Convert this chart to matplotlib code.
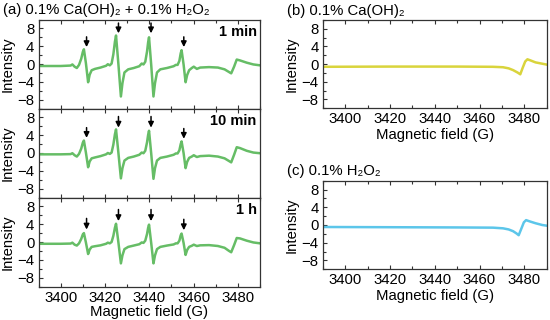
import matplotlib
matplotlib.use("Agg")
import matplotlib.pyplot as plt
from matplotlib.ticker import MultipleLocator

plt.rcParams['font.family'] = ['Liberation Sans', 'DejaVu Sans']
plt.rcParams['font.size'] = 10.7

# ---------------- data ----------------
field = [3390, 3400, 3404.5, 3405.3, 3406.3, 3407.3, 3408.3, 3409.3, 3410.0, 3410.5,
         3411.4, 3412.4, 3413.1, 3414.0, 3415.5, 3418, 3420.5, 3421.3, 3422.2, 3423.0,
         3423.8, 3424.5, 3425.0, 3426.1, 3427.2, 3427.9, 3428.8, 3430.5, 3433, 3435.5,
         3436.6, 3437.4, 3438.2, 3439.0, 3439.5, 3439.9, 3440.9, 3441.9, 3442.6, 3443.5,
         3445, 3448, 3451, 3452.0, 3452.8, 3453.6, 3454.2, 3454.6, 3455.5, 3456.4,
         3457.1, 3458.0, 3459.2, 3460.1, 3461.5, 3463, 3467, 3471, 3474, 3476,
         3477.0, 3478.3, 3479.5, 3481, 3484, 3487, 3490]

int_1min = [-0.45, -0.45, -0.35, -0.1, -0.6, -0.9, -0.2, 1.2, 2.7, 3.3,
            0.2, -4.1, -2.4, -1.4, -1.1, -0.8, -0.4, -0.05, -0.3, 0.1,
            2.2, 5.0, 6.4, -0.2, -7.3, -4.3, -1.9, -1.2, -0.9, -0.5,
            0.1, -0.1, 0.5, 2.8, 4.9, 6.0, -0.3, -7.3, -4.3, -1.9,
            -1.2, -0.9, -0.5, -0.2, -0.2, 0.7, 2.4, 3.1, -0.1, -4.1,
            -2.5, -1.4, -0.9, -0.6, -1.1, -0.8, -0.7, -0.8, -1.2, -1.8,
            -2.1, -0.6, 1.0, 0.8, 0.3, -0.1, -0.3]

int_10min = [-0.3, -0.3, -0.25, -0.05, -0.5, -0.8, -0.2, 1.0, 2.3, 2.8,
             0.1, -3.2, -1.9, -1.2, -1.0, -0.7, -0.3, 0.0, -0.2, 0.1,
             1.9, 4.2, 5.3, -0.1, -5.7, -3.4, -1.7, -1.1, -0.8, -0.4,
             0.1, -0.05, 0.5, 2.4, 4.1, 5.0, -0.2, -5.8, -3.4, -1.7,
             -1.1, -0.8, -0.4, -0.1, -0.1, 0.6, 2.0, 2.6, 0.0, -3.4,
             -2.0, -1.1, -0.8, -0.5, -0.9, -0.7, -0.6, -0.8, -1.2, -1.8,
             -2.1, -0.4, 1.3, 1.1, 0.5, 0.1, -0.05]

int_1h = [-0.4, -0.4, -0.35, -0.15, -0.6, -0.8, -0.3, 0.7, 1.7, 2.0,
          -0.1, -2.7, -1.7, -1.1, -0.95, -0.75, -0.4, -0.15, -0.3, 0.0,
          1.4, 3.2, 4.1, -0.2, -4.8, -3.0, -1.6, -1.1, -0.8, -0.5,
          -0.1, -0.2, 0.3, 1.8, 3.2, 3.9, -0.3, -4.8, -3.0, -1.6,
          -1.1, -0.8, -0.55, -0.3, -0.3, 0.3, 1.5, 1.9, -0.2, -2.9,
          -1.8, -1.1, -0.85, -0.6, -0.9, -0.75, -0.7, -0.9, -1.3, -2.0,
          -2.3, -0.7, 0.9, 0.8, 0.3, -0.1, -0.3]

field_b = [3390, 3420, 3450, 3466, 3470.5, 3473, 3475, 3477, 3478.2, 3479.3,
           3480.4, 3481.4, 3483, 3485, 3488, 3490]
int_b = [-0.6, -0.55, -0.55, -0.6, -0.7, -0.95, -1.35, -1.9, -2.3, -0.8,
         0.6, 1.1, 0.8, 0.4, 0.1, -0.1]

field_c = [3390, 3420, 3450, 3466, 3470.5, 3473, 3475, 3476.5, 3477.5, 3478.7,
           3479.8, 3480.8, 3482.5, 3485, 3488, 3490]
int_c = [-0.45, -0.5, -0.55, -0.6, -0.75, -1.0, -1.4, -1.9, -2.3, -0.8,
         0.6, 1.1, 0.8, 0.4, 0.0, -0.15]

time_labels = ['1 min', '10 min', '1 h']
arrow_x = [3411.7, 3426.1, 3440.8, 3455.6]
arrow_top = [[6.1, 9.2, 9.2, 6.1], [5.7, 8.2, 8.2, 5.5], [5.3, 7.3, 7.3, 5.1]]
arrow_tip = [[3.8, 6.9, 6.9, 3.8], [3.4, 5.7, 5.7, 3.2], [2.8, 4.7, 4.7, 2.65]]

xticks = [3400, 3420, 3440, 3460, 3480]
yticks = [-8, -4, 0, 4, 8]

# ---------------- figure ----------------
W, H = 550, 320
fig = plt.figure(figsize=(W / 100, H / 100), dpi=100)

green = '#66bd66'
yellow = '#d9d43c'
cyan = '#5cc6ea'


def px_axes(x0, y0, x1, y1):
    return fig.add_axes([x0 / W, 1 - y1 / H, (x1 - x0) / W, (y1 - y0) / H])


def style(ax, show_x, xpad):
    ax.set_xlim(3390, 3490)
    ax.set_ylim(-10, 10)
    ax.set_xticks(xticks)
    ax.set_yticks(yticks)
    ax.xaxis.set_minor_locator(MultipleLocator(10))
    ax.yaxis.set_minor_locator(MultipleLocator(2))
    ax.tick_params(which='both', direction='in', top=True, right=False,
                   width=0.8, color='#333333', labelsize=10.7, pad=3)
    ax.tick_params(which='major', length=3)
    ax.tick_params(which='minor', length=2.5)
    for s in ax.spines.values():
        s.set_linewidth(0.9)
        s.set_color('#333333')
    ax.set_ylabel('Intensity', labelpad=2)
    if show_x:
        ax.set_xlabel('Magnetic field (G)', labelpad=xpad)
    else:
        ax.tick_params(labelbottom=False)


series = [int_1min, int_10min, int_1h]
tops = [19.5, 108.5, 197.5]
for i in range(3):
    ax = px_axes(38.5, tops[i], 260, tops[i] + 89)
    ax.plot(field, series[i], color=green, lw=1.8, solid_joinstyle='round')
    style(ax, i == 2, 0)
    for x, t, b in zip(arrow_x, arrow_top[i], arrow_tip[i]):
        ax.annotate('', xy=(x, b), xytext=(x, t),
                    arrowprops=dict(arrowstyle='-|>', color='black', lw=1.1,
                                    mutation_scale=8, shrinkA=0, shrinkB=0))
    ax.text(0.985, 0.865, time_labels[i], transform=ax.transAxes, ha='right',
            va='center', fontweight='bold', fontsize=10.5)

axb = px_axes(322.7, 20, 546.7, 108.3)
axb.plot(field_b, int_b, color=yellow, lw=1.8, solid_joinstyle='round')
style(axb, True, 1)

axc = px_axes(322.7, 180.7, 546.7, 269.3)
axc.plot(field_c, int_c, color=cyan, lw=1.8, solid_joinstyle='round')
style(axc, True, 1)

fig.text(3 / W, 1 - 10 / H, '(a) 0.1% Ca(OH)₂ + 0.1% H₂O₂', ha='left', va='center', fontsize=10.7)
fig.text(287 / W, 1 - 11.5 / H, '(b) 0.1% Ca(OH)₂', ha='left', va='center', fontsize=10.7)
fig.text(287 / W, 1 - 171.5 / H, '(c) 0.1% H₂O₂', ha='left', va='center', fontsize=10.7)

fig.savefig('out.png', dpi=100)
